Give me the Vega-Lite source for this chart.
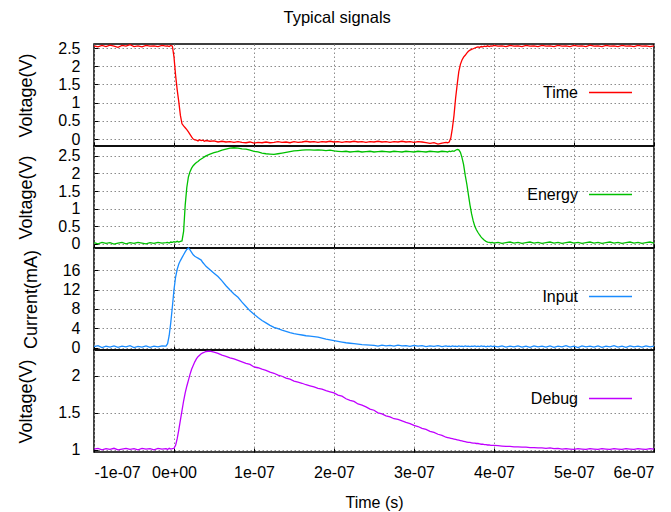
{
  "$schema": "https://vega.github.io/schema/vega-lite/v6.json",
  "padding": {"left": 17, "top": 9, "right": 10, "bottom": 0},
  "title": {"text": "Typical signals", "fontSize": 16.5, "fontWeight": "normal", "font": "Liberation Sans", "color": "#000000", "anchor": "middle", "offset": 13},
  "config": {
    "font": "Liberation Sans",
    "view": {"stroke": "#000000", "strokeWidth": 1.5},
    "axis": {
      "labelFont": "Liberation Sans", "labelFontSize": 16, "labelColor": "#000000",
      "titleFont": "Liberation Sans", "titleFontSize": 18, "titleFontWeight": "normal", "titleColor": "#000000",
      "grid": true, "gridColor": "#8c8c8c", "gridDash": [1.5, 2.5], "gridWidth": 1,
      "domain": false, "tickColor": "#000000", "tickSize": -4, "tickWidth": 1
    },
    "legend": {
      "orient": "none", "legendX": 494, "legendY": 26, "title": null,
      "symbolType": "stroke", "symbolSize": 1849, "symbolStrokeWidth": 1.5,
      "labelAlign": "right", "labelOffset": -55, "labelFontSize": 16, "labelFont": "Liberation Sans", "labelColor": "#000000", "padding": 0
    }
  },
  "spacing": 0,
  "bounds": "flush",
  "data": {"values": [
    {"t":-100,"a":2.56,"b":0.03,"c":0.2,"d":1.01},
    {"t":-95,"a":2.53,"b":0.0,"c":0.4,"d":1.02},
    {"t":-90,"a":2.57,"b":0.04,"c":0.0,"d":1.0},
    {"t":-85,"a":2.54,"b":0.01,"c":0.3,"d":1.015},
    {"t":-80,"a":2.58,"b":0.03,"c":0.1,"d":1.005},
    {"t":-75,"a":2.55,"b":-0.01,"c":0.35,"d":1.02},
    {"t":-70,"a":2.52,"b":0.02,"c":0.05,"d":1.0},
    {"t":-65,"a":2.57,"b":0.04,"c":0.3,"d":1.01},
    {"t":-60,"a":2.55,"b":0.0,"c":0.15,"d":1.02},
    {"t":-55,"a":2.59,"b":0.03,"c":0.4,"d":1.005},
    {"t":-50,"a":2.54,"b":0.01,"c":0.0,"d":1.015},
    {"t":-45,"a":2.56,"b":0.04,"c":0.25,"d":1.0},
    {"t":-40,"a":2.53,"b":0.02,"c":0.1,"d":1.02},
    {"t":-35,"a":2.57,"b":0.0,"c":0.35,"d":1.01},
    {"t":-30,"a":2.55,"b":0.03,"c":0.05,"d":1.015},
    {"t":-25,"a":2.56,"b":0.01,"c":0.3,"d":1.0},
    {"t":-20,"a":2.54,"b":0.04,"c":0.15,"d":1.02},
    {"t":-15,"a":2.57,"b":0.02,"c":0.35,"d":1.01},
    {"t":-10,"a":2.55,"b":0.03,"c":0.3,"d":1.015},
    {"t":-8,"a":2.56,"b":0.04,"c":0.8,"d":1.005},
    {"t":-6,"a":2.54,"b":0.02,"c":2.5,"d":1.02},
    {"t":-4,"a":2.57,"b":0.05,"c":5.2,"d":1.01},
    {"t":-2,"a":2.55,"b":0.04,"c":8.5,"d":1.015},
    {"t":0,"a":2.25,"b":0.06,"c":12.0,"d":1.02},
    {"t":2,"a":1.75,"b":0.05,"c":14.6,"d":1.06},
    {"t":4,"a":1.35,"b":0.07,"c":16.2,"d":1.15},
    {"t":6,"a":1.02,"b":0.05,"c":17.3,"d":1.27},
    {"t":8,"a":0.65,"b":0.07,"c":18.0,"d":1.4},
    {"t":10,"a":0.42,"b":0.08,"c":18.6,"d":1.53},
    {"t":12,"a":0.36,"b":0.35,"c":19.2,"d":1.66},
    {"t":14,"a":0.31,"b":1.1,"c":19.8,"d":1.77},
    {"t":16,"a":0.26,"b":1.6,"c":20.3,"d":1.86},
    {"t":18,"a":0.2,"b":1.9,"c":20.6,"d":1.94},
    {"t":20,"a":0.13,"b":2.05,"c":20.2,"d":2.02},
    {"t":22,"a":0.06,"b":2.15,"c":19.7,"d":2.09},
    {"t":24,"a":0.0,"b":2.22,"c":19.2,"d":2.14},
    {"t":26,"a":-0.02,"b":2.27,"c":18.9,"d":2.19},
    {"t":28,"a":-0.03,"b":2.31,"c":18.7,"d":2.23},
    {"t":30,"a":-0.05,"b":2.34,"c":18.5,"d":2.26},
    {"t":32,"a":-0.02,"b":2.38,"c":18.3,"d":2.28},
    {"t":34,"a":-0.04,"b":2.41,"c":18.1,"d":2.3},
    {"t":36,"a":-0.03,"b":2.44,"c":17.6,"d":2.31},
    {"t":38,"a":-0.06,"b":2.47,"c":17.2,"d":2.32},
    {"t":40,"a":-0.04,"b":2.5,"c":16.8,"d":2.33},
    {"t":45,"a":-0.06,"b":2.55,"c":16.1,"d":2.335},
    {"t":50,"a":-0.05,"b":2.59,"c":15.4,"d":2.32},
    {"t":55,"a":-0.08,"b":2.62,"c":14.7,"d":2.305},
    {"t":60,"a":-0.06,"b":2.66,"c":13.8,"d":2.28},
    {"t":65,"a":-0.08,"b":2.69,"c":12.8,"d":2.265},
    {"t":70,"a":-0.07,"b":2.72,"c":11.9,"d":2.245},
    {"t":75,"a":-0.09,"b":2.73,"c":11.1,"d":2.23},
    {"t":80,"a":-0.07,"b":2.72,"c":10.4,"d":2.21},
    {"t":85,"a":-0.09,"b":2.7,"c":9.4,"d":2.19},
    {"t":90,"a":-0.1,"b":2.69,"c":8.5,"d":2.17},
    {"t":95,"a":-0.08,"b":2.66,"c":7.6,"d":2.155},
    {"t":100,"a":-0.11,"b":2.63,"c":6.9,"d":2.12},
    {"t":105,"a":-0.09,"b":2.61,"c":6.2,"d":2.11},
    {"t":110,"a":-0.1,"b":2.58,"c":5.6,"d":2.09},
    {"t":115,"a":-0.08,"b":2.56,"c":5.1,"d":2.075},
    {"t":120,"a":-0.1,"b":2.55,"c":4.6,"d":2.05},
    {"t":125,"a":-0.09,"b":2.54,"c":4.2,"d":2.035},
    {"t":130,"a":-0.07,"b":2.56,"c":3.9,"d":2.01},
    {"t":135,"a":-0.09,"b":2.58,"c":3.6,"d":1.995},
    {"t":140,"a":-0.08,"b":2.6,"c":3.35,"d":1.97},
    {"t":145,"a":-0.1,"b":2.62,"c":3.1,"d":1.955},
    {"t":150,"a":-0.07,"b":2.64,"c":2.9,"d":1.93},
    {"t":155,"a":-0.09,"b":2.65,"c":2.75,"d":1.915},
    {"t":160,"a":-0.08,"b":2.66,"c":2.6,"d":1.9},
    {"t":165,"a":-0.06,"b":2.67,"c":2.45,"d":1.88},
    {"t":170,"a":-0.08,"b":2.67,"c":2.35,"d":1.865},
    {"t":175,"a":-0.07,"b":2.66,"c":2.25,"d":1.85},
    {"t":180,"a":-0.09,"b":2.67,"c":2.15,"d":1.83},
    {"t":185,"a":-0.07,"b":2.66,"c":1.95,"d":1.82},
    {"t":190,"a":-0.08,"b":2.65,"c":1.75,"d":1.8},
    {"t":195,"a":-0.06,"b":2.66,"c":1.6,"d":1.785},
    {"t":200,"a":-0.08,"b":2.64,"c":1.45,"d":1.77},
    {"t":205,"a":-0.07,"b":2.63,"c":1.3,"d":1.74},
    {"t":210,"a":-0.09,"b":2.62,"c":1.15,"d":1.725},
    {"t":215,"a":-0.07,"b":2.63,"c":1.0,"d":1.69},
    {"t":220,"a":-0.08,"b":2.61,"c":0.9,"d":1.67},
    {"t":225,"a":-0.06,"b":2.62,"c":0.8,"d":1.655},
    {"t":230,"a":-0.08,"b":2.63,"c":0.7,"d":1.62},
    {"t":235,"a":-0.07,"b":2.61,"c":0.6,"d":1.605},
    {"t":240,"a":-0.09,"b":2.62,"c":0.55,"d":1.58},
    {"t":245,"a":-0.07,"b":2.63,"c":0.5,"d":1.55},
    {"t":250,"a":-0.08,"b":2.61,"c":0.45,"d":1.535},
    {"t":255,"a":-0.06,"b":2.62,"c":0.3,"d":1.5},
    {"t":260,"a":-0.08,"b":2.63,"c":0.5,"d":1.485},
    {"t":265,"a":-0.07,"b":2.62,"c":0.35,"d":1.46},
    {"t":270,"a":-0.09,"b":2.61,"c":0.45,"d":1.445},
    {"t":275,"a":-0.07,"b":2.63,"c":0.3,"d":1.42},
    {"t":280,"a":-0.08,"b":2.62,"c":0.5,"d":1.41},
    {"t":285,"a":-0.06,"b":2.61,"c":0.35,"d":1.39},
    {"t":290,"a":-0.08,"b":2.63,"c":0.4,"d":1.37},
    {"t":295,"a":-0.07,"b":2.62,"c":0.25,"d":1.355},
    {"t":300,"a":-0.09,"b":2.61,"c":0.45,"d":1.33},
    {"t":305,"a":-0.07,"b":2.63,"c":0.3,"d":1.315},
    {"t":310,"a":-0.08,"b":2.62,"c":0.4,"d":1.29},
    {"t":315,"a":-0.1,"b":2.61,"c":0.2,"d":1.275},
    {"t":320,"a":-0.12,"b":2.63,"c":0.35,"d":1.25},
    {"t":325,"a":-0.1,"b":2.62,"c":0.25,"d":1.235},
    {"t":330,"a":-0.14,"b":2.61,"c":0.4,"d":1.21},
    {"t":335,"a":-0.11,"b":2.63,"c":0.2,"d":1.195},
    {"t":340,"a":-0.09,"b":2.62,"c":0.35,"d":1.17},
    {"t":342,"a":-0.1,"b":2.61,"c":0.25,"d":1.165},
    {"t":344,"a":-0.08,"b":2.63,"c":0.3,"d":1.16},
    {"t":346,"a":0.03,"b":2.62,"c":0.2,"d":1.155},
    {"t":348,"a":0.3,"b":2.64,"c":0.35,"d":1.15},
    {"t":350,"a":0.65,"b":2.63,"c":0.25,"d":1.145},
    {"t":352,"a":1.12,"b":2.66,"c":0.3,"d":1.14},
    {"t":354,"a":1.5,"b":2.68,"c":0.2,"d":1.135},
    {"t":356,"a":1.85,"b":2.67,"c":0.35,"d":1.13},
    {"t":358,"a":2.05,"b":2.6,"c":0.25,"d":1.125},
    {"t":360,"a":2.17,"b":2.45,"c":0.3,"d":1.12},
    {"t":362,"a":2.25,"b":2.25,"c":0.2,"d":1.115},
    {"t":364,"a":2.3,"b":1.95,"c":0.35,"d":1.11},
    {"t":366,"a":2.36,"b":1.7,"c":0.25,"d":1.105},
    {"t":368,"a":2.41,"b":1.4,"c":0.3,"d":1.1},
    {"t":370,"a":2.44,"b":1.1,"c":0.2,"d":1.1},
    {"t":372,"a":2.46,"b":0.85,"c":0.3,"d":1.095},
    {"t":374,"a":2.48,"b":0.65,"c":0.25,"d":1.09},
    {"t":376,"a":2.5,"b":0.5,"c":0.35,"d":1.09},
    {"t":378,"a":2.52,"b":0.4,"c":0.2,"d":1.085},
    {"t":380,"a":2.53,"b":0.32,"c":0.3,"d":1.085},
    {"t":382,"a":2.52,"b":0.25,"c":0.2,"d":1.08},
    {"t":384,"a":2.54,"b":0.19,"c":0.35,"d":1.075},
    {"t":386,"a":2.53,"b":0.14,"c":0.25,"d":1.075},
    {"t":388,"a":2.55,"b":0.1,"c":0.3,"d":1.07},
    {"t":390,"a":2.54,"b":0.07,"c":0.15,"d":1.07},
    {"t":392,"a":2.56,"b":0.05,"c":0.3,"d":1.065},
    {"t":394,"a":2.54,"b":0.04,"c":0.2,"d":1.065},
    {"t":396,"a":2.56,"b":0.03,"c":0.35,"d":1.06},
    {"t":398,"a":2.55,"b":0.04,"c":0.2,"d":1.06},
    {"t":400,"a":2.57,"b":0.02,"c":0.3,"d":1.06},
    {"t":405,"a":2.55,"b":0.04,"c":0.15,"d":1.055},
    {"t":410,"a":2.56,"b":0.01,"c":0.35,"d":1.05},
    {"t":415,"a":2.54,"b":0.03,"c":0.1,"d":1.045},
    {"t":420,"a":2.57,"b":0.05,"c":0.3,"d":1.045},
    {"t":425,"a":2.55,"b":0.02,"c":0.15,"d":1.04},
    {"t":430,"a":2.56,"b":0.04,"c":0.35,"d":1.04},
    {"t":435,"a":2.54,"b":0.01,"c":0.1,"d":1.035},
    {"t":440,"a":2.57,"b":0.03,"c":0.3,"d":1.035},
    {"t":445,"a":2.55,"b":0.05,"c":0.05,"d":1.03},
    {"t":450,"a":2.56,"b":0.02,"c":0.35,"d":1.03},
    {"t":455,"a":2.54,"b":0.04,"c":0.15,"d":1.025},
    {"t":460,"a":2.57,"b":0.01,"c":0.3,"d":1.025},
    {"t":465,"a":2.55,"b":0.03,"c":0.1,"d":1.02},
    {"t":470,"a":2.56,"b":0.05,"c":0.35,"d":1.025},
    {"t":475,"a":2.54,"b":0.02,"c":0.05,"d":1.015},
    {"t":480,"a":2.57,"b":0.04,"c":0.3,"d":1.02},
    {"t":485,"a":2.55,"b":0.01,"c":0.15,"d":1.01},
    {"t":490,"a":2.56,"b":0.03,"c":0.4,"d":1.015},
    {"t":495,"a":2.54,"b":0.05,"c":0.1,"d":1.01},
    {"t":500,"a":2.57,"b":0.02,"c":0.3,"d":1.005},
    {"t":505,"a":2.55,"b":0.04,"c":0.0,"d":1.015},
    {"t":510,"a":2.56,"b":0.01,"c":0.35,"d":1.01},
    {"t":515,"a":2.54,"b":0.03,"c":0.15,"d":1.005},
    {"t":520,"a":2.58,"b":0.05,"c":0.3,"d":1.015},
    {"t":525,"a":2.55,"b":0.02,"c":0.1,"d":1.01},
    {"t":530,"a":2.56,"b":0.04,"c":0.35,"d":1.005},
    {"t":535,"a":2.54,"b":0.01,"c":0.05,"d":1.015},
    {"t":540,"a":2.57,"b":0.03,"c":0.3,"d":1.01},
    {"t":545,"a":2.55,"b":0.05,"c":0.15,"d":1.005},
    {"t":550,"a":2.56,"b":0.02,"c":0.4,"d":1.015},
    {"t":555,"a":2.54,"b":0.04,"c":0.1,"d":1.01},
    {"t":560,"a":2.57,"b":0.01,"c":0.3,"d":1.005},
    {"t":565,"a":2.55,"b":0.03,"c":0.05,"d":1.015},
    {"t":570,"a":2.56,"b":0.05,"c":0.35,"d":1.01},
    {"t":575,"a":2.54,"b":0.02,"c":0.15,"d":1.005},
    {"t":580,"a":2.57,"b":0.04,"c":0.3,"d":1.015},
    {"t":585,"a":2.55,"b":0.01,"c":0.1,"d":1.01},
    {"t":590,"a":2.56,"b":0.03,"c":0.35,"d":1.005},
    {"t":595,"a":2.54,"b":0.05,"c":0.15,"d":1.015},
    {"t":600,"a":2.56,"b":0.02,"c":0.3,"d":1.01}
  ]},
  "vconcat": [
    {
      "width": 560, "height": 102,
      "mark": {"type": "line", "strokeWidth": 1.3},
      "encoding": {
        "x": {"field": "t", "type": "quantitative", "scale": {"domain": [-100, 600], "nice": false, "zero": false},
              "axis": {"title": null, "labels": false, "values": [-100, 0, 100, 200, 300, 400, 500, 600]}},
        "y": {"field": "a", "type": "quantitative", "scale": {"domain": [-0.19, 2.61], "nice": false, "zero": false},
              "axis": {"title": "Voltage(V)", "values": [0, 0.5, 1, 1.5, 2, 2.5], "format": "~g", "labelPadding": 18, "titlePadding": 22}},
        "color": {"datum": "Time", "scale": {"range": ["#ff0000"]}}
      }
    },
    {
      "width": 560, "height": 102,
      "mark": {"type": "line", "strokeWidth": 1.3},
      "encoding": {
        "x": {"field": "t", "type": "quantitative", "scale": {"domain": [-100, 600], "nice": false, "zero": false},
              "axis": {"title": null, "labels": false, "values": [-100, 0, 100, 200, 300, 400, 500, 600]}},
        "y": {"field": "b", "type": "quantitative", "scale": {"domain": [-0.12, 2.78], "nice": false, "zero": false},
              "axis": {"title": "Voltage(V)", "values": [0, 0.5, 1, 1.5, 2, 2.5], "format": "~g", "labelPadding": 18, "titlePadding": 22}},
        "color": {"datum": "Energy", "scale": {"range": ["#00c000"]}}
      }
    },
    {
      "width": 560, "height": 102,
      "mark": {"type": "line", "strokeWidth": 1.3},
      "encoding": {
        "x": {"field": "t", "type": "quantitative", "scale": {"domain": [-100, 600], "nice": false, "zero": false},
              "axis": {"title": null, "labels": false, "values": [-100, 0, 100, 200, 300, 400, 500, 600]}},
        "y": {"field": "c", "type": "quantitative", "scale": {"domain": [-0.5, 20.6], "nice": false, "zero": false},
              "axis": {"title": "Current(mA)", "values": [0, 4, 8, 12, 16], "format": "~g", "labelPadding": 18, "titlePadding": 22}},
        "color": {"datum": "Input", "scale": {"range": ["#1a8cff"]}}
      }
    },
    {
      "width": 560, "height": 102,
      "mark": {"type": "line", "strokeWidth": 1.3},
      "encoding": {
        "x": {"field": "t", "type": "quantitative", "scale": {"domain": [-100, 600], "nice": false, "zero": false},
              "axis": {"title": "Time (s)", "titleFontSize": 16, "values": [-100, 0, 100, 200, 300, 400, 500, 600], "labelPadding": 16, "titlePadding": 14,
                       "labelExpr": "datum.value == 0 ? '0e+00' : (datum.value / 100) + 'e-07'"}},
        "y": {"field": "d", "type": "quantitative", "scale": {"domain": [0.97, 2.35], "nice": false, "zero": false},
              "axis": {"title": "Voltage(V)", "values": [1, 1.5, 2], "format": "~g", "labelPadding": 18, "titlePadding": 22}},
        "color": {"datum": "Debug", "scale": {"range": ["#c000ff"]}}
      }
    }
  ],
  "resolve": {"scale": {"y": "independent", "color": "independent"}, "legend": {"color": "independent"}}
}
